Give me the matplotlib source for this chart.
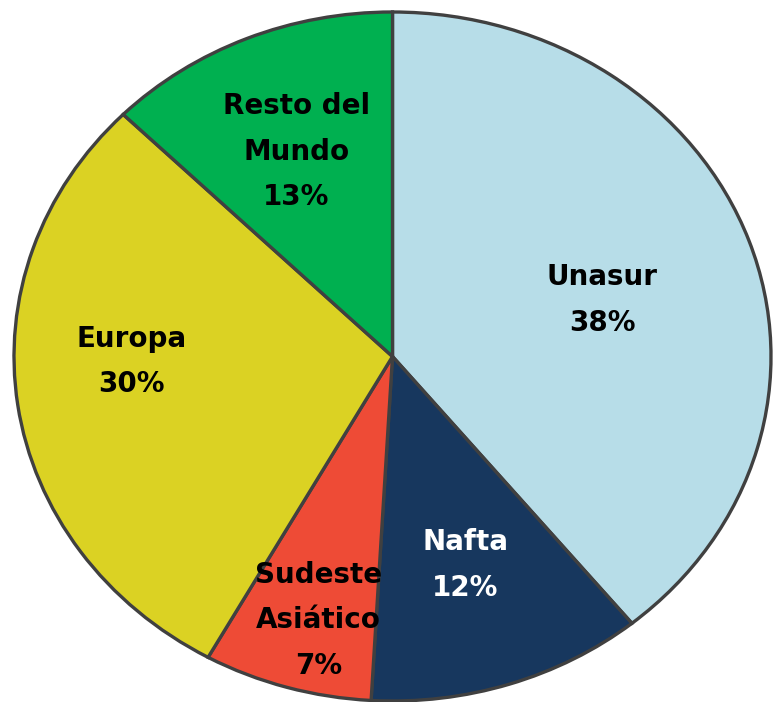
import matplotlib.pyplot as plt

regions = ['Unasur', 'Nafta', 'Sudeste\nAsiático', 'Europa', 'Resto del\nMundo']
shares = [39.1, 11.8, 7.2, 29.3, 12.6]          # slice sizes
shown_pct = ['38%', '12%', '7%', '30%', '13%']  # percentages printed on the chart

colors = ['#B7DDE8', '#17375E', '#EE4B36', '#DBD223', '#00B050']
text_colors = ['black', 'white', 'black', 'black', 'black']
label_pos = [(0.777, 0.582), (0.596, 0.197), (0.402, 0.117),
             (0.155, 0.493), (0.373, 0.797)]


def main():
    fig = plt.figure(figsize=(7.73, 7.02), dpi=100)
    ax = fig.add_axes([14 / 773, 1 / 702, 757 / 773, 689 / 702])

    ax.pie(shares, colors=colors, startangle=90, counterclock=False,
           radius=1, wedgeprops=dict(edgecolor='#404040', linewidth=2.4))
    ax.set_aspect('auto')
    ax.set_xlim(-1, 1)
    ax.set_ylim(-1, 1)
    ax.axis('off')

    for name, pct, col, (x, y) in zip(regions, shown_pct, text_colors, label_pos):
        ax.text(x, y, name + '\n' + pct, transform=ax.transAxes,
                ha='center', va='center', color=col, fontsize=20,
                fontweight='bold', family='DejaVu Sans', linespacing=1.8)

    fig.savefig('out.png', dpi=100)


if __name__ == '__main__':
    main()
